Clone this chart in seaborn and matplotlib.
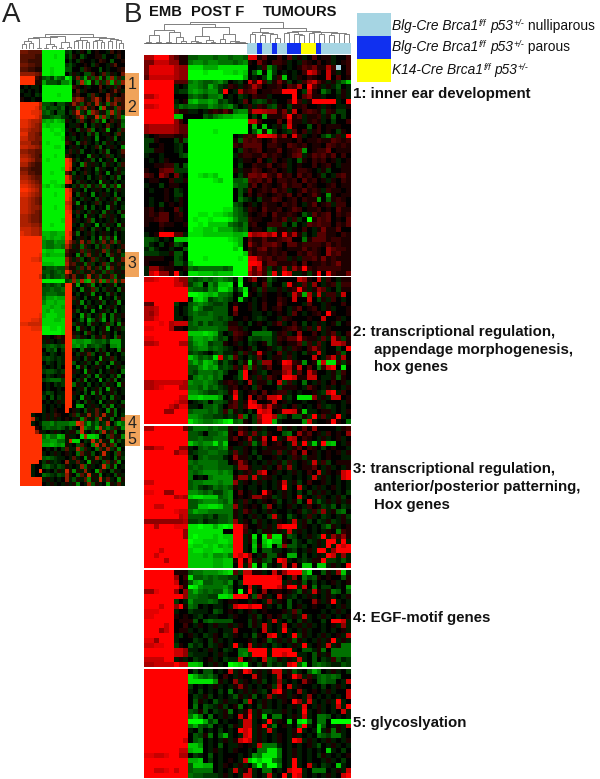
import numpy as np
import seaborn as sns
import matplotlib
matplotlib.use("Agg")
import matplotlib.pyplot as plt
from matplotlib.colors import LinearSegmentedColormap, ListedColormap

sns.set_theme(style="white")
plt.rcParams['font.family'] = ['Liberation Sans', 'DejaVu Sans']

# Cell levels: digits 1-9 = red intensity, letters a-i = green intensity, 0 = black, x = missing
# Column groups: EMB(9) POST(9) extra(3) TUMOURS(7 7 7)
SECTION_1 = [
"669995311 ccdddcddc ddc 8813002 03a1a03 011a002",
"447775511 deedeeddd cde 1041022 1a0a210 201a012",
"488888655 hhhfffhhh hhh 00a2eb1 0a01324 1162x02",
"488888655 iiihiiihh ghg 0cg0gb0 a0a0286 2071a02",
"377777655 iiiiiiiii iif 0a0bga2 g0a1021 0070301",
"999999333 dedccdec0 ab0 7282b14 1b0a257 31a1bdg",
"999999a0a eedcfdba2 1a1 2630112 0326093 1a1ac0a",
"999999abb efedeeb90 a62 3401122 9990b71 0db0b1a",
"668999000 cdcbdde0a 0ba 0211a00 0090351 1a00a1a",
"999999a01 fgeefebca 0a3 0bcb1a0 0292a19 9999a09",
"778999bdc ddccedcde b0a 2a21bc1 0b11200 1a10aa1",
"999999311 aa0a12131 dee 2776551 4a70232 1b21bb0",
"999999gg0 000cbdeff ggg 0b0f111 3913a11 2a1c0b0",
"999999520 iiiiiiiii iii 7720003 0711a12 1a0b002",
"566666533 iiiiiiiii iii 0f0g0a1 b8100c0 2011100",
"566666533 iiiiihiii iii 0cg1gb0 ab302a1 2010b10",
"a01222112 iiiiiiiii 0a2 3299872 5082a01 0bda2a9",
"bb1000b1c iiiiiiiii 1c3 2320131 1102011 2113212",
"b00100ab0 iiiiiiiii 213 3330221 0321201 1032121",
"bb1100ab0 iiiiiiiii 0b2 1230113 0123e01 2240111",
"a00a000bc iiiiiiiii a12 2113121 0134a13 2313020",
"0a0a10000 iiiiiiiii 0a1 1030a20 1a0c102 1201a01",
"001122b0c iiiiiiiii 0b0 0211301 2a01002 0120a11",
"100344bbb iiiiiiiii 1a1 1320120 1a02210 a1b0011",
"3205304a0 iihghgiii 0b1 4435214 1203120 1b0a231",
"011002aa1 iiiiihgii ccd 3231302 2120312 01a1021",
"a00b01100 iiiiiiiii dcc 1302101 3122021 0012011",
"0a0010ba0 iiiiiiiii 0ca 3012131 2a01312 1a21101",
"000010bb0 iiiiiiiii 0c0 2021012 1302013 10e1011",
"0a0010a10 iiiiiiiii 0db a0b1132 0120211 e0c1210",
"0a0b01010 iiiiiiiii cb0 1a02110 2120a13 012a220",
"1201003a0 iiiiiiihh dca 2103112 0132011 2010311",
"121330120 iihhihhgf dcb 1012031 1210ca3 1230212",
"112330110 ihiihiiih ecc 2110021 3a2b0i1 3230103",
"100211001 iihiggggd cbd 1200222 b0c0a32 3220213",
"000100000 ihhgghfff dcd 0110cb1 1a1020a 1411300",
"a0199933a hhhgggggg ffg 8567581 8261b0a 3311021",
"ccb0a0ggg iiiiiiiih gf0 3113112 3400d13 3312211",
"ca0b01cb0 iiiiiiiii hf0 5213342 0331222 2131211",
"aca00a00c iiiiiiiii gi0 2134121 0111312 1053221",
"bbbaa1cc0 iiiiiiiii iig 3122121 2002132 1052311",
"111100cb0 iiihiiiii ihi 8842312 2a1a223 1412111",
"100001cca giiiiiiii iii 9981331 1120301 1212411",
"a55211001 dcdddddcd iii 8372b1a 5a52921 2222211",
"a795519a0 hhgggfggg iii 6352c8a 97aa1b1 9082114",
]
SECTION_2 = [
"778999755 cbcdcdedc ah0 2501ca0 0007510 7a20a11",
"999999775 bde0ecggh 0i0 0a03b00 b81a3a5 0a12b22",
"999999999 dccbedhhf adh 01b2aa1 a1292a1 53a0b11",
"999999999 iihgfgddc 0ai 10a1001 0a72f6a 7a22a70",
"999999999 aghfbcdcb 0ga 0a01002 1070070 b1a20a0",
"339999b00 cdedcbbc0 100 1a02003 1000a30 0a10020",
"667999a0a cfdbbccc0 500 1a02012 0a13012 0a1a001",
"657999a0a cdccdccc0 300 0aa0a01 0a30a01 2091001",
"668999aa0 bddddcbcb 001 0aba00a 2100010 07001a0",
"999896777 cdbdbccb1 1a0 b010a13 a020b0a 1a01b01",
"889996110 ccddddcc2 21a 000b000 1231a2a 5a10000",
"999999999 ggghgfb0a 321 0dddda1 2a05002 0a13a02",
"889999999 dffefdbc0 210 cbbcca2 1337211 a3a72b1",
"667999966 cefebcc10 1a0 ba01ca1 0113b2a 3a07751",
"999999999 cdeecdcba 010 1b001ab 1a21025 2a00b09",
"999999999 bcba0bcaa 1b2 a171a03 a1a0b1a 7a002c0",
"999999999 gecdch8bd 3a0 ba30a11 a2a0007 0a37a60",
"999999999 dfdgfdaca 0b1 g1b5501 9821e01 g7hh2b1",
"999999999 ccegefbcb 2a5 d2a1300 6617030 d2790h0",
"999999999 cbdddcdb0 0c9 01ab011 57a3073 00a1b20",
"999999999 adedecd00 ac9 1a2a310 9971177 0aa1c10",
"667777776 eddedca12 1a0 6a11b07 b2a0d0a 1a0201a",
"667899966 ddcecdba1 201 0b2000b 1110a31 0a1a0a1",
"999999999 eedcbbcb1 7a0 1203012 2a0a001 ab79a20",
"999999977 gghggge0a 9a0 7031779 ab0hhh5 a1a7701",
"999999866 0abc0ccb1 3a1 9700170 1a00a00 1a000a1",
"999997588 aa0ccdb02 3a2 9973721 a02a0a0 2aba0a0",
"999955999 cdddcdb2c 1a0 b097801 8871gaa 011a0a1",
"999999999 eedccbbab a5d 0b5996c b0cc1b9 a3a19a0",
"999999999 hfeddefhi cd1 0b499fa 0000e7a 001910d",
]
SECTION_3 = [
"669999994 bdddcdcc1 a21 0a1a005 a1a0305 0000a12",
"999999999 ccb0ccde1 052 a4ab100 cd05130 1a20105",
"999999999 ccdccddd1 301 5a1709a 1760210 a1a01a0",
"999999999 gedeehdg0 01a 2da5012 0a7a9bg a9fg0a1",
"557799955 a0cdccde1 aa1 0a0a111 1a13021 0b0100a",
"999999577 abccddcca 3a1 0b011a3 a130601 a0101a1",
"999999999 b0cdccca0 511 a0b001a 0a21b11 a0100aa",
"999999999 dcddddcc0 152 0a0a1a1 b2a01a7 a2b0111",
"999999999 cdcdddccc a55 1aa1a03 a5a0113 0a1a0a1",
"999999999 dcdeeeded 0a1 2a5801a 0a1a020 7a1017 9",
"999999999 d0a0deeee 155 a7a21a0 aa0a0a7 a1a0a79",
"779999999 cddeeedee 5a1 0a1a0a1 7a1b020 01a0a0a",
"999999999 cdbabdcdc 1a0 aa0a0a1 9a07a0a 1a01a0a",
"889955999 eedcdbbde 030 1a0920a 1a0b0b1 a1a0a0b",
"999999676 ghhgggcde 010 15521ba 1a07a0a 2a0a1b0",
"999999999 ccdeeedce 1a2 a0a101b 0a1c07a ca1a1a1",
"997799999 ccgghhgdd 5a1 010b50a 01a0a20 1bac0ba",
"999999877 dfeeddddd 1a3 1a0a1a0 0a01ba2 b5a1cd0",
"999999967 cccbcaccd 1a0 a1a0b7a 0ca0a2a 0ba0a1b",
"555555556 bbcabbccd 5a1 0b1a0a1 0a7a1b0 ba1ba1a",
"996999888 hhihhfhih 993 001a1a7 999a10a 0bd1a01",
"999999995 hhhhhhh00 992 a0b11a1 a7a1a0a 0a10d21",
"999999995 hihhhghgg 99a 1h0h5hh 1cb0a1a b9a5251",
"999999999 ihhggghhg 99a 1f0gigg 10ca0ba 1a99a9a",
"999999999 hgghghfgf 99a 0g1fh0e 5ccab0a 1a9a979",
"999799999 ghhgghhgg 99a 0f0ccaa 0ab0a1a 99a5999",
"997999999 gggfgeefd 979 50a1cc1 0ff0b0a 1a97a5a",
"999969999 gggggffgg 191 7a1bc09 7a0aba1 19bbaca",
"999999999 gggggffgg 09a 5h0fa0a 7070gg0 gga1a09",
]
SECTION_4 = [
"999999111 cddeeefgh 3b7 711a071 5999eh0 0c1a5ga",
"999999502 hccdcdccb b09 9999998 0a50dbc 10100c1",
"999999701 cfgccddce 0b9 9999999 a2a1c0b 0a01a01",
"999999951 iheddddec 0a0 7a19997 299a70d 0bb0a0e",
"558999505 dfdcdccfd 0i0 9a05011 01ac1a7 1a1dc0c",
"999999995 ddccbbhhg 999 1c51a07 1ab0a1a 0a1a0a1",
"999999b0a ecccdca01 100 a10a5a1 0c0a005 1a19a0a",
"999799591 dc0a0aa0a 799 7991a0b 0c01a01 00a0a1a",
"888999a00 baaa0cb01 0a0 1a01000 1a3b000 0a0a1a0",
"889999101 0ab0aa00a 100 a1b0201 ba1a7a0 a1a0a01",
"999999011 1c0cdcccc 000 b1a0a7a 0b0b1a0 0b0997a",
"999979002 0a10a1aa1 a10 b1a7a0a 70a1a1a 0a01a5a",
"999579011 a0a0aa0aa 500 0a07a0a 9a0a1a0 0a0a01a",
"999999ab0 1a0ba10ba 10a 0c1079a 0a9b1a0 a1a01a7",
"885999a00 0ba0b1a0a 000 1a01ca1 a1c1a0a 1a19a1a",
"778899b10 cab0ba10a 9a0 7a1a0ba 0a1a9a0 1a7a1dd",
"999999775 aa0a1a0ba 0dd 9999a99 99a0cca 1d0dddd",
"999999775 baaa0a1a0 0de b999a99 799aa0c 1a1dddd",
"777799a1a 0ba01a0ba a70 1a07cb1 a1a7a0c 0ba2cab",
"667777977 ggf0a1a0i hgi a0b1cab a79cg0c dcbaacb",
]
SECTION_5 = [
"999999999 0b0cc0a07 a19 7a1a177 a1ca0cf d0a1a0b",
"999999999 hfdcdb020 a10 071a0a7 0195a2a cdcdc00",
"999999999 hhhhhe1a0 5a1 0a1b0a5 a0a0510 cdcc0a7",
"999999999 b0a0a1a0a 151 a0a01b7 07a100a 0b0a1a0",
"999999999 a0b0a0b0d 0a1 a1ab079 1a05a01 0a1a007",
"999999999 0ba1b0a0a c1a 1c0a5a1 1a10a50 a0a0a07",
"999999999 0c1a0ca1a a0c 70a1a0a 1095a7a 0a1a9a0",
"999999999 0d0cba1b0 1d0 a0b1a0a 0a1a80a 1a0a7a9",
"999999999 cb1c0ba1d 0a1 7a1bbaa 1a0a9a0 1a0a07a",
"999999999 dgd0d0a1a 071 9a1g0dd 0a1a7a0 ddc0a0a",
"999999999 iiifbd0a0 0a7 7a0a9a1 0g0hid0 dd0iiii",
"999999999 dfcbd0a0b 1a7 7a19ad0 1a0d9a0 gc0a1a7",
"999999999 a0c0a0b0a 097 9a1a7a0 0a19a0a ga1d1a0",
"999999999 0cb1d0cfa 0a7 9a1a0a1 0a1a0a0 dcbdda0",
"999999997 0cd0a0a1a 179 7a1a0a1 0a97a1a 0a1a0a1",
"999999999 gge0a0c0a a10 1a7ddda 0a0a01a c0a1a0a",
"999999977 fgg0a1a0a 100 a0ddhhd 0a1a0a0 a0ga0b0",
"887789966 0ba0c0a00 0a0 aedhhhd 0a1a0a0 b1a0a01",
"999999999 ffg0b0a01 0a7 gigiidc 0a9a0a0 0a1a0b0",
"999999999 cggff0a10 a1a 0didiid 0a9a07a 0ba0ga0",
"997789799 cdddd0a0a 7a1 7a0dd0a 0799a0d dd0a1a7",
"999999999 dccbbba1a 0a7 7a0a7a0 9a97a0a 0a1a079",
]
# Panel A: reduced-resolution reading. Column groups: EMB(6) POST(6) extra(2) TUMOURS(14)
PANEL_A = [
"443333 iiiiii bc 0a10c0100a2010","333322 iiihii ac 10ca0011b00a20",
"332222 iiiiii 0b 0b100a0210c001","443322 iiiiii bc a0010b100a1300",
"332211 iihiii cc 00b2100c0a0012","555543 iihiii 0b 1a0cc20a3b1a04",
"999921 cdbfdc ig a4bf2c3e1d5c2b","999911 fcccbe eg 0c6eg1d2b4f3c5",
"0a0aa0 iiiiii ii 2101a0030a1b20","a0a0a0 iiiiii ii 03a10002a0141a",
"0aa0ba iiiihi ii 1200b3a0041a02","100a00 iiiiii ii 3541a36205a432",
"999996 ccb0cc a1 52c13a6b1d35a2","999985 dbccbd 0a 1d35a20f6a1c42",
"999887 cdb0cc 0b 27b1e53a1d6c3a","999986 bbcddb a0 a36c1a7d5c1b3e",
"887665 fgfhgf 1a 0b3a02c1f02a1c","887654 hghhhh 0a a10d0b1a03a01d",
"776554 iihiih a1 0c1a3d0a1f00b2","885543 iiihhi 0a 10a0c1d0a10b3a",
"775544 iiiiih 1a b0a1a0e00a1d0a","666443 ihiiii 21 0d12a0b0c1a0a1",
"776654 iiihhi 0a 1a0b0a2d0a1a0e","554433 iiiiii a2 a1c00a0b1d00a3",
"665432 iiihii 21 0a00e1a0a2b0a1","776533 ihiiii 97 1b0a1c0d0a1e0a",
"664322 iiiiii 98 a0e3a1a0c1a0b2","443222 iiiiih 97 0b01a0d1a00c1a",
"553322 iihiii 31 c0a2a0b10e0a1b","665433 iiiiii 85 a1a0c0a2a0b1d0",
"776543 iihhii 87 0b1a0a0f1a0b0a","887654 hgihhg 10 b1c2d1b2e1c2f1",
"998764 iiiiii 97 1a0d0a1a0c0b1a","887654 iiihii 98 0c1a0e0a1a0d0a",
"776543 iiiiii 97 a0b1a0c1a0a2d0","776543 iiiiii 76 1e0a0a2b0a1c0a",
"776554 iiihii 87 0a1d0c0a0e1a0b","776543 iiiiii 98 a2a0b1a0d1a0c1",
"665443 iiiiii 99 0b0e1a0c2a1a0d","665443 iiiiih 99 1a0a2d0a0a1b0a",
"666554 iihiii 99 a0c1a0f0b1a0e1","777665 iiiiii 99 0a2a0c1a0d0a1b",
"877665 ggffgg 97 1d0a1b0a1a0c0a","999999 fgfggf 98 0a1a0c0e2c1f0a",
"999999 eddfee 85 2a5a3c1b4a3d2a","999999 eddeed 63 a1d2a0c1b3a0a2",
"999999 hgghhh 31 1a3b2a1a4c1a3a","999998 gfgggg 21 0e1c4a1b0d2a1c",
"999887 hhhhhh 52 a2c0a3b1a0e1a4","999999 ggghhh 62 3a1d2b0a3c1a2a",
"999999 bccdcc 41 1b3a4a2c1e3a1b","999999 ccbcdc 85 a2b1a3a1c2b1a1",
"999997 bdbccd 31 4a1b6a2c1a3d1a","999999 iiiiii bc 5d6fg5b6e4c6b5",
"999999 bcbcdb 99 1f0a2e0b0a1d0a","999999 ccdccd 99 a0e1a3c0b1a0d1",
"999999 cdddcc 99 0b0a1e0a0c1b0a","999999 dffgff 99 2a0c0a1f0a0d1a",
"999999 eggfgg 99 a1e0b0a1c0a1e0","999999 ggfggf 99 0a0d1a0f0a1b0a",
"999999 gfhggg 99 1c0a0e0a1b0d0a","999998 ghhhgg 99 a0f1c0a2e0d1a1",
"999887 hhhggh 99 0ad0fc1bf0d1b0","887777 hhhhhh 99 b1a0d1a0a2c0e1",
"999888 iihhih 99 0e1a0c0a1f0a1b","999999 iiiiih 99 1a0d2a0b1a0c0a",
"999999 1a0121 99 2b1a0c1a3a0d2a","999999 a1a0a1 99 feeffdccdbfffa",
"999999 bcdcbc 99 efdfbcdcb0eefa","999999 0cbd0b 99 a0d1a0c1b0a0e1",
"999999 a0ba0a 99 0b1a3c0a1d0a0b","999999 bcbaba 99 1a0c1a0f1a2b0a",
"999999 0ba0ba 99 c0a1b0d1a0e1a0","999999 a0a0b0 99 0e1c0a1a0d0a1b",
"999999 bccbab 99 1a0f1a0c0a1a0d","999999 0ba0a1 99 a0a1c0e1a0b1e0",
"999999 bcdddb 99 0b1e0a0f0b1d0a","999999 0a0bab 99 d1a0c0a0b1a0f1",
"999999 0a00a0 99 0a1d0a1c0f1a0a","999999 acb0aa 99 1a0c0e1d0a1b0a",
"999999 b0c0ba 99 a0f1a0a1c0d1a0","999999 0a0a1a 99 0b0c1a0e0a1a0c",
"999999 a0a0a0 99 0ff0a1a0c1e0a1","999999 a0a100 90 1a0c1a3a0e1d0a",
"999a00 a1a210 0a 2c1a5a3a6a1d0b","9997a0 a1a1a0 10 a1e3a1c6a1d0a5",
"999a0a ddecdd de e86cfbdab60cfd","999910 cdccdc ac a07ecbf6bdb2ae",
"999951 a0a1a0 a1 1d7a0b1c6a2d0a","999999 dfddgf 1a a0h6hhga0c3a1e",
"999999 eeffdd a7 hh0ba7b6a1f1ca","999999 ffgfef 1a 0c3a0e7a5a3d0a",
"999999 0a0b0b 3a a6c2a0d3a5b1e0","999999 a0a1a0 1a 0d3a1c0a7a0c3a",
"999999 cdcbaa 0a 3a0e1a5c1a0d1b","999990 b1aba0 5a a3a0f1a0c3a2e0",
"999a00 cdbacb 1a 0a5d1a0a7c1e0a","999a09 0a0b1a 71 e1a5a0f3a0c1a0",
"999a00 dcbacb 51 0d3a7a1e0a0c1a","999999 a1a0a0 5a c1a3e1a7a3a0e1",
"999999 0a1a0a 1a 1e0a5c1a0f1a3a",
]
# Sample-type bar under the tumour dendrogram: 0 nulliparous, 1 parous, 2 K14
SAMPLE_TYPE = [0,0,1,0,0,1,0,0,1,1,1,2,2,2,1,0,0,0,0,0,0]
LEGEND_COLOURS = ["#a6d5e3", "#1030f0", "#ffff00"]

# Dendrograms: (merge height, left, right), integers are leaf positions
TREE_B = (21,
  (19,
    (13,(8,(1,0,1),(1,2,3)),(11,(1,4,5),(6,6,(2,7,8)))),
    (16,(7,(2,9,(1,10,11)),(3,12,(1,13,14))),(9,(4,15,16),(2,17,(1,18,(1,19,20)))))),
  (15,(11,(9,21,22),(10,(8,23,24),(9,25,(5,26,27)))),
      (12,(11,(10,28,29),(9,30,(8,31,32))),(11,(10,33,34),(11,(9,35,36),(10,(8,37,38),(10,39,(9,40,41))))))))
TREE_A = (15,
  (12,
    (11,(8,(5,0,1),(6,2,3)),(1,4,5)),
    (13,(5,(1,6,7),(3,8,9)),(7,(1,10,11),(2,12,13)))),
  (12,(9,(8,14,15),(9,16,(7,17,18))),
      (11,(9,(8,19,20),(7,21,22)),(10,(8,23,24),(9,25,(6,26,27))))))
BASE_B = 21; BASE_A = 15

LEVELS = {str(i): i for i in range(10)}
LEVELS.update({c: -(i+1) for i, c in enumerate("abcdefghi")})
LEVELS['x'] = np.nan
def decode(rows):
    return np.array([[LEVELS[c] for c in r.replace(" ", "")] for r in rows], dtype=float)

W, H = 600, 779
fig = plt.figure(figsize=(W/100, H/100), dpi=100, facecolor="white")
def axes_px(x0, y0, x1, y1):
    return fig.add_axes([x0/W, 1-y1/H, (x1-x0)/W, (y1-y0)/H])

cmap_b = LinearSegmentedColormap.from_list("gbr", ["#00ff00", "#000000", "#ff0000"])
cmap_a = LinearSegmentedColormap.from_list("gbo", ["#00f000", "#000000", "#ff3000"])

def heat(ax, rows, cmap):
    sns.heatmap(decode(rows), ax=ax, cmap=cmap, vmin=-9, vmax=9, cbar=False,
                xticklabels=False, yticklabels=False)
    ax.set_facecolor(LEGEND_COLOURS[0])
    ax.set_xlabel(""); ax.set_ylabel("")

heat(axes_px(20, 50, 125, 486), PANEL_A, cmap_a)
spans = [(55,276),(277,424),(426,568),(570,667),(669,778)]
for rows, (y0, y1) in zip([SECTION_1,SECTION_2,SECTION_3,SECTION_4,SECTION_5], spans):
    heat(axes_px(144, y0, 351, y1), rows, cmap_b)

ax = axes_px(247, 43, 351, 54)
sns.heatmap(np.array([SAMPLE_TYPE]), ax=ax, cmap=ListedColormap(LEGEND_COLOURS), vmin=-.5, vmax=2.5,
            cbar=False, xticklabels=False, yticklabels=False)

def draw_tree(ax, node, color):
    if isinstance(node, int):
        return node + .5, 0
    h, l, r = node
    xl, hl = draw_tree(ax, l, color)
    xr, hr = draw_tree(ax, r, color)
    ax.plot([xl, xl, xr, xr], [hl, h, h, hr], color=color, lw=.7, solid_joinstyle="miter")
    return (xl+xr)/2, h

def dendro(box, tree, n, top):
    a = axes_px(*box); a.axis("off")
    draw_tree(a, tree, "#808080")
    a.set_xlim(0, n); a.set_ylim(0, top)

dendro((144, 22, 351, 43), TREE_B, 42, BASE_B)
dendro((20, 34, 125, 49), TREE_A, 28, BASE_A)

ov = axes_px(0, 0, W, H); ov.axis("off"); ov.set_xlim(0, W); ov.set_ylim(H, 0); ov.patch.set_alpha(0)
ov.plot([144, 247], [43.3, 43.3], color="#666666", lw=.7)

ORANGE = "#f0a35a"
for (x0, y0, x1, y1) in [(125,73,139,116),(125,252,139,277),(125,415,140,446)]:
    ov.fill_between([x0, x1], y0, y1, color=ORANGE, lw=0)
for lab, y in [("1",84),("2",107),("3",264),("4",423),("5",439)]:
    ov.text(132, y, lab, ha="center", va="center", fontsize=11.5, color="#222222")

ov.text(2, 15, "A", fontsize=20, va="center", color="#222222")
ov.text(124, 15, "B", fontsize=20, va="center", color="#222222")
for lab, x in [("EMB",149),("POST F",191),("TUMOURS",263)]:
    ov.text(x, 11.5, lab, fontsize=10.6, fontweight="bold", va="center", color="#111111")

for i, c in enumerate(LEGEND_COLOURS):
    y0 = 13 + i*23
    ov.fill_between([357, 391], y0, y0+23, color=c, lw=0)

rend = fig.canvas.get_renderer()
def runs(x, y, parts):
    for s, style, size, dy in parts:
        t = ov.text(x, y+dy, s, fontsize=size, style=style, va="baseline", color="#111111")
        x += t.get_window_extent(rend).width
GENO = [("Blg-Cre Brca1","italic",9.9,0),("f/f","italic",6.5,-4),(" ","normal",9.9,0),("p53","italic",9.9,0),("+/-","italic",6.5,-4)]
runs(392.5, 30, GENO + [(" nulliparous","normal",9.9,0)])
runs(392.5, 51, GENO + [(" parous","normal",9.9,0)])
runs(392.5, 74, [("K14-Cre Brca1","italic",9.9,0)] + GENO[1:])

LABELS = [(353,94,"1: inner ear development"),(353,332,"2: transcriptional regulation,"),
          (374,350,"appendage morphogenesis,"),(374,367,"hox genes"),
          (353,469,"3: transcriptional regulation,"),(374,487,"anterior/posterior patterning,"),
          (374,505,"Hox genes"),(353,618,"4: EGF-motif genes"),(353,723,"5: glycoslyation")]
for x, y, s in LABELS:
    ov.text(x, y, s, fontsize=10.8, fontweight="bold", va="center", color="#111111")

fig.savefig("out.png", dpi=100)
